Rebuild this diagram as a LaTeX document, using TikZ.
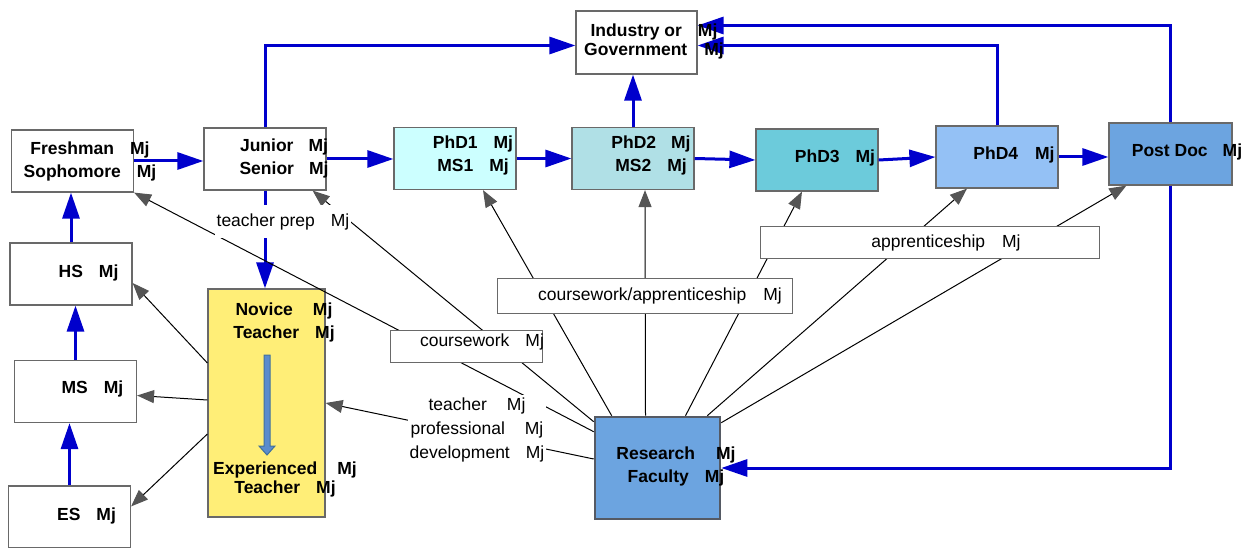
\documentclass[tikz,border=0pt]{standalone}
\usepackage{fontspec}
\setmainfont{Liberation Sans}
\usetikzlibrary{arrows.meta}
\definecolor{arrblue}{RGB}{0,0,204}
\definecolor{phdone}{RGB}{204,255,255}
\definecolor{phdtwo}{RGB}{176,224,230}
\definecolor{phdthree}{RGB}{108,203,219}
\definecolor{phdfour}{RGB}{148,193,245}
\definecolor{rfblue}{RGB}{108,164,224}
\definecolor{novyellow}{RGB}{255,238,119}
\definecolor{boxgray}{RGB}{105,105,105}
\definecolor{rfgray}{RGB}{85,90,100}
\definecolor{tipgray}{RGB}{85,85,85}
\definecolor{careerfill}{RGB}{91,140,205}
\definecolor{careeredge}{RGB}{65,113,156}
\newcommand{\mj}[1][16pt]{\hspace{#1}Mj}

\begin{document}
\begin{tikzpicture}[x=1pt,y=-1pt,
	box/.style={draw=boxgray,line width=1.2pt,minimum width=122pt,minimum height=62pt,inner sep=0pt},
	lblbox/.style={draw=boxgray,line width=1pt,fill=white,inner sep=0pt},
	txt/.style={font=\fontsize{17.5}{23}\selectfont\bfseries,align=center,inner sep=0pt},
	lbl/.style={font=\fontsize{17.5}{24}\selectfont,align=center,inner sep=0pt},
	bluearr/.style={draw=arrblue,line width=3pt,-{Triangle[length=26pt,width=17pt]}},
	grayarr/.style={draw=black,line width=1pt,-{Triangle[length=17pt,width=13pt,color=tipgray]}}]
	\useasboundingbox (0,0) rectangle (1243,548);

	% school and undergrad
	\node[box] (fresh) at (72.5,161) {};
	\node[box] (jun) at (265,159) {};
	\node[box] (hs) at (71,274) {};
	\node[box] (ms) at (75.5,391.5) {};
	\node[box] (es) at (69.5,517) {};
	\node[box,fill=novyellow,minimum width=117pt,minimum height=228pt] (nov) at (266.5,403) {};

	% graduate
	\node[box,fill=phdone] (phd1) at (455,158.5) {};
	\node[box,fill=phdtwo] (phd2) at (633,158.5) {};
	\node[box,fill=phdthree] (phd3) at (817,160) {};
	\node[box,fill=phdfour] (phd4) at (997,157) {};
	\node[box,fill=rfblue,minimum width=123pt] (pd) at (1170.5,154) {};
	\node[box,minimum width=121pt,minimum height=63pt] (ind) at (636.5,42.5) {};
	\node[box,fill=rfblue,draw=rfgray,line width=2.6pt,minimum width=125pt,minimum height=102pt] (rf) at (657.5,468) {};

	\draw[draw=careeredge,fill=careerfill,line width=1pt]
	(264,355) -- (270,355) -- (270,446) -- (275,446) -- (267,455) -- (259,446) -- (264,446) -- cycle;

	\draw[bluearr] (hs.north) -- (hs.north |- fresh.south);
	\draw[bluearr] (ms.north) -- (ms.north |- hs.south);
	\draw[bluearr] (es.north) -- (es.north |- ms.south);
	\draw[bluearr] (fresh.east) -- (fresh.east -| jun.west);
	\draw[bluearr] (jun.east) -- (jun.east -| phd1.west);
	\draw[bluearr] (phd1.east) -- (phd2.west);
	\draw[bluearr] (phd2.east) -- (phd3.west);
	\draw[bluearr] (phd3.east) -- (phd4.west);
	\draw[bluearr] (phd4.east) -- (phd4.east -| pd.west);
	\draw[bluearr] (jun.north) |- ([yshift=-3pt]ind.west);
	\draw[bluearr] (phd2.north) -- (phd2.north |- ind.south);
	\draw[bluearr] (phd4.north) |- ([yshift=-3pt]ind.east);
	\draw[bluearr] (pd.north) |- ([yshift=17pt]ind.east);
	\draw[bluearr] (pd.south) |- (rf.east);
	\draw[bluearr] (jun.south) -- (jun.south |- nov.north);

	\draw[grayarr] ([yshift=-16pt]rf.north west) -- (fresh.south east);
	\draw[grayarr] ([yshift=-6pt]rf.north west) -- ([xshift=-14pt]jun.south east);
	\draw[grayarr] ([xshift=18pt]rf.north west) -- ([xshift=28pt]phd1.south);
	\draw[grayarr] ([xshift=-12pt]rf.north) -- ([xshift=12pt]phd2.south);
	\draw[grayarr] ([xshift=28pt]rf.north) -- ([xshift=-15pt]phd3.south);
	\draw[grayarr] ([xshift=-14pt]rf.north east) -- ([xshift=-30pt]phd4.south);
	\draw[grayarr] ([yshift=-7pt]rf.north east) -- ([xshift=18pt]pd.south west);
	\draw[grayarr] ([yshift=9pt]rf.west) -- (nov.east);
	\draw[grayarr] ([yshift=40pt]nov.west) -- ([yshift=-9pt]hs.east);
	\draw[grayarr] ([yshift=3pt]nov.west) -- ([yshift=-4pt]ms.east);
	\draw[grayarr] ([yshift=-31pt]nov.west) -- ([yshift=-21pt]es.north east);

	% edge labels
	\node[lblbox,minimum width=152pt,minimum height=32pt] (cw) at (466,346) {};
	\node[lblbox,minimum width=295pt,minimum height=34pt] (cwa) at (644.5,296) {};
	\node[lblbox,minimum width=339pt,minimum height=32pt] (app) at (929.5,242.5) {};

	\node[lbl] (cw-t) at (482,341.5) {coursework\mj};
	\node[lbl] (cwa-t) at (660,295.5) {coursework/apprenticeship\mj[17pt]};
	\node[lbl] (app-t) at (946,242.5) {apprenticeship\mj[17pt]};
	\node[lbl,fill=white,inner xsep=2pt,inner ysep=8pt] (tp-t) at (283,221.5) {teacher prep\mj};
	\node[lbl,fill=white,inner sep=2pt] (tpd-t) at (477,429.5) {teacher\mj[20pt]\\professional\mj[20pt]\\development\mj};

	% box texts
	\node[txt] (fresh-t) at (90,161) {Freshman\mj\\Sophomore\mj};
	\node[txt] (jun-t) at (284,158) {Junior\mj[15pt]\\Senior\mj[15pt]};
	\node[txt] (hs-t) at (88.5,272.5) {HS\mj};
	\node[txt] (ms-t) at (92.5,388.5) {MS\mj};
	\node[txt] (es-t) at (86.5,515.5) {ES\mj};
	\node[txt] (nov-t) at (284,322.5) {Novice\mj[20pt]\\Teacher\mj};
	\node[txt,font=\fontsize{17.5}{19.5}\selectfont\bfseries] (exp-t) at (285,479.5) {Experienced\mj[20pt]\\Teacher\mj};
	\node[txt] (phd1-t) at (473,155.5) {PhD1\mj\\MS1\mj};
	\node[txt] (phd2-t) at (651,155.5) {PhD2\mj[15pt]\\MS2\mj};
	\node[txt] (phd3-t) at (835,157.5) {PhD3\mj};
	\node[txt] (phd4-t) at (1014,154.5) {PhD4\mj[17pt]};
	\node[txt] (pd-t) at (1187,151.5) {Post Doc\mj[15pt]};
	\node[txt,font=\fontsize{17.5}{19.5}\selectfont\bfseries] (ind-t) at (654,41.5) {Industry or\mj\\Government\mj[17pt]};
	\node[txt] (rf-t) at (676,466) {Research\mj[21pt]\\Faculty\mj};
\end{tikzpicture}
\end{document}
